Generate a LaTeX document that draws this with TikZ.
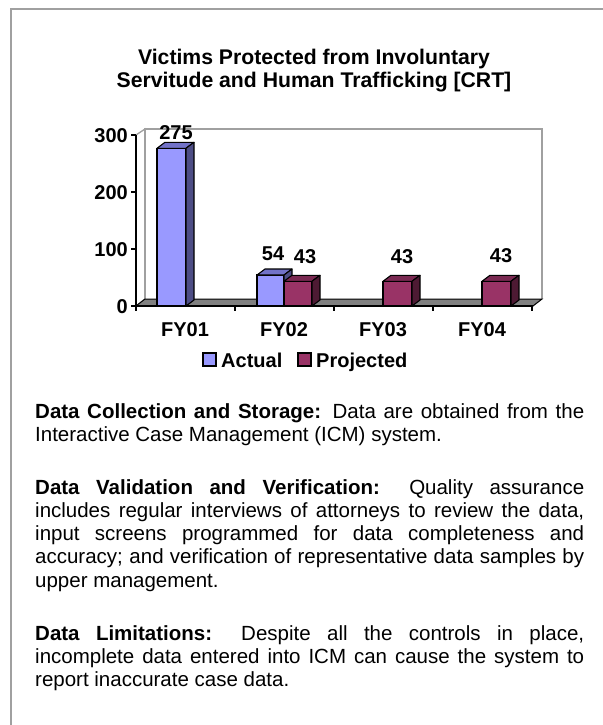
\documentclass[tikz,border=0pt]{standalone}
\usepackage{fontspec}
\setmainfont{Liberation Sans}
\usetikzlibrary{calc}
\definecolor{frameg}{HTML}{A0A0A0}
\definecolor{wallg}{HTML}{A0A0A0}
\definecolor{floorg}{HTML}{808080}
\definecolor{actF}{HTML}{9999FF}
\definecolor{actT}{HTML}{7272C8}
\definecolor{actS}{HTML}{4D4D85}
\definecolor{proF}{HTML}{993366}
\definecolor{proT}{HTML}{7A2952}
\definecolor{proS}{HTML}{4D1A33}
\newcommand\mybar[6]{%
  \filldraw[fill=#4,draw=black,line width=1.1pt] (#1,306) rectangle (#2,#3);
  \filldraw[fill=#5,draw=black,line width=1.1pt,line join=round] (#1,#3) -- ++(8,-6) -- ($(#2,#3)+(8,-6)$) -- (#2,#3) -- cycle;
  \filldraw[fill=#6,draw=black,line width=1.1pt,line join=round] (#2,306) -- (#2,#3) -- ++(8,-6) -- ($(#2,306)+(8,-6)$) -- cycle;}
\newcommand\bodyline[1]{\makebox[549pt][s]{#1}}
\begin{document}
\begin{tikzpicture}[x=1pt,y=-1pt,
  lab/.style={font=\fontsize{20}{22}\selectfont\bfseries, inner sep=0pt},
  body/.style={font=\fontsize{20.5}{23}\selectfont, inner sep=0pt, anchor=base west},
  title/.style={font=\fontsize{21.2}{24}\selectfont\bfseries, inner sep=0pt, anchor=base}]
\useasboundingbox (0,0) rectangle (602,725);
% frame
\draw[frameg,line width=1.5pt] (11,740) -- (11,9) -- (620,9);
% title
\node[title] (t1) at (314,64) {Victims Protected from Involuntary};
\node[title] (t2) at (314,88) {Servitude and Human Trafficking [CRT]};
% walls
\filldraw[fill=white,draw=wallg,line width=1.3pt] (136,306) -- (136,135) -- (145,129) -- (145,299) -- cycle;
\filldraw[fill=white,draw=wallg,line width=1.3pt] (145,299) -- (145,129) -- (542,129) -- (542,299);
\filldraw[fill=floorg,draw=black,line width=1pt] (136,306) -- (533,306) -- (542,299) -- (145,299) -- cycle;
% axes
\draw[black,line width=1.3pt] (136,135) -- (136,306) -- (533,306);
\foreach \yy in {135,192,249,306} \draw[black,line width=1.3pt] (131,\yy) -- (136,\yy);
\foreach \xx in {136,235,334,433,532} \draw[black,line width=1.3pt] (\xx,306) -- (\xx,311);
\node[lab,anchor=base east] (y300) at (128,142) {300};
\node[lab,anchor=base east] (y200) at (128,199) {200};
\node[lab,anchor=base east] (y100) at (128,256) {100};
\node[lab,anchor=base east] (y0) at (128,313) {0};
% bars
\mybar{157}{186}{148.3}{actF}{actT}{actS}
\mybar{257}{284}{275.0}{actF}{actT}{actS}
\mybar{284}{312}{281.3}{proF}{proT}{proS}
\mybar{383}{412}{281.3}{proF}{proT}{proS}
\mybar{482}{511}{281.3}{proF}{proT}{proS}
% values
\node[lab,anchor=base] (v1) at (176,139) {275};
\node[lab,anchor=base] (v2) at (273,260) {54};
\node[lab,anchor=base] (v3) at (305,263) {43};
\node[lab,anchor=base] (v4) at (402,263) {43};
\node[lab,anchor=base] (v5) at (501,262) {43};
% categories
\node[lab,anchor=base] (c1) at (185,336) {FY01};
\node[lab,anchor=base] (c2) at (284,336) {FY02};
\node[lab,anchor=base] (c3) at (383,336) {FY03};
\node[lab,anchor=base] (c4) at (482,336) {FY04};
% legend
\filldraw[fill=actF,draw=black,line width=1.1pt] (203,353) rectangle (216,366);
\node[lab,anchor=base west] (la) at (221,367) {Actual};
\filldraw[fill=proF,draw=black,line width=1.1pt] (298,353) rectangle (311,366);
\node[lab,anchor=base west] (lp) at (316,367) {Projected};
% text
\node[body] (p1a) at (35,418) {\bodyline{\textbf{Data Collection and Storage:} Data are obtained from the}};
\node[body] (p1b) at (35,441.2) {Interactive Case Management (ICM) system.};
\node[body] (p2a) at (35,494.2) {\bodyline{\textbf{Data Validation and Verification:} Quality assurance}};
\node[body] (p2b) at (35,517.4) {\bodyline{includes regular interviews of attorneys to review the data,}};
\node[body] (p2c) at (35,540.6) {\bodyline{input screens programmed for data completeness and}};
\node[body] (p2d) at (35,563.8) {\bodyline{accuracy; and verification of representative data samples by}};
\node[body] (p2e) at (35,587) {upper management.};
\node[body] (p3a) at (35,640) {\bodyline{\textbf{Data Limitations:} Despite all the controls in place,}};
\node[body] (p3b) at (35,663.2) {\bodyline{incomplete data entered into ICM can cause the system to}};
\node[body] (p3c) at (35,686.4) {report inaccurate case data.};
\end{tikzpicture}
\end{document}
